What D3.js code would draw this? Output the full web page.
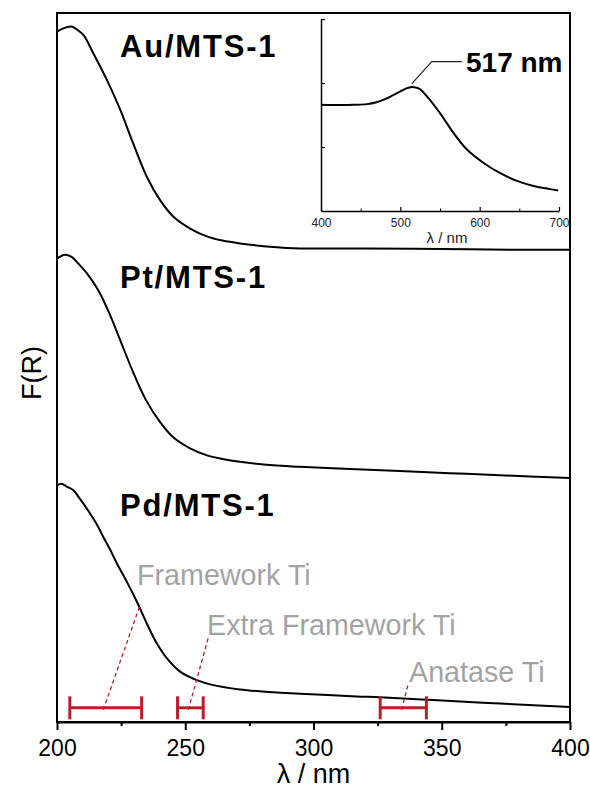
<!DOCTYPE html>
<html>
<head>
<meta charset="utf-8">
<script src="https://cdn.jsdelivr.net/npm/d3@7"></script>
<style>
  html, body { margin: 0; padding: 0; background: #fff; }
  svg { display: block; font-family: "Liberation Sans", Arial, Helvetica, sans-serif; }
</style>
</head>
<body>
<svg id="chart" width="590" height="789"></svg>
<script>
// ---- Data ----
const xMajorTicks = [200, 250, 300, 350, 400];
const xMinorTicks = [225, 275, 325, 375];

// Au/MTS-1 (offset trace, arbitrary F(R) units)
const auX = [200.1, 203, 205.7, 208, 210.3, 214.2, 219.4, 224.6, 229.7, 235, 240.2, 245.3, 251.9, 258.4, 264.5, 271.3, 284.3, 294.7, 320, 350, 380, 400];
const auY = [97.4, 97.9, 98.1, 97.6, 96.9, 94.3, 90.6, 86.4, 81.6, 76.9, 73.6, 71.3, 69.6, 68.5, 67.9, 67.5, 67.0, 66.8, 66.8, 66.7, 66.6, 66.6];

// Pt/MTS-1
const ptX = [200.1, 203.1, 205.7, 207.7, 211.6, 216.1, 220.7, 224.6, 229.6, 234.7, 240.2, 245.2, 251.9, 258.5, 264.5, 271.3, 284.2, 294.7, 314.2, 333.7, 353.2, 372.7, 400];
const ptY = [65.4, 65.9, 65.6, 64.9, 63.3, 60.9, 57.4, 53.9, 49.4, 45.4, 42.3, 40.2, 38.6, 37.6, 37.1, 36.7, 36.2, 36.0, 35.7, 35.4, 35.1, 34.8, 34.4];

// Pd/MTS-1
const pdX = [200.1, 201.8, 203.8, 206.4, 208.3, 210.3, 212.9, 215.5, 217.9, 220.6, 223.3, 227.2, 231.1, 235.0, 238.9, 242.8, 248.0, 254.5, 260.9, 271.3, 284.3, 294.7, 316.8, 325.9, 346.6, 372.7, 400];
const pdY = [33.4, 33.6, 33.2, 32.7, 31.8, 30.8, 29.4, 27.9, 26.2, 24.4, 22.4, 19.8, 17.0, 13.9, 11.1, 9.0, 7.1, 5.9, 5.2, 4.6, 4.2, 4.0, 3.6, 3.5, 3.1, 2.6, 2.1];

const sampleLabels = ["Au/MTS-1", "Pt/MTS-1", "Pd/MTS-1"];

// Ti species ranges (nm)
const rangeNames = ["Framework Ti", "Extra Framework Ti", "Anatase Ti"];
const rangeStart = [205, 247, 326];
const rangeEnd = [233, 257, 344];
const leaderFrom = [218, 251.2, 334.4];
const leaderTo = [232.4, 259, 337];

// Inset: Au/MTS-1, 400–700 nm
const insetXTicks = [400, 500, 600, 700];
const insetXMinor = [450, 550, 650];
const insetYTicks = [1, 2, 3];
const insetX = [400, 420, 440, 458, 470, 483, 500, 510, 517, 524, 533, 550, 567, 584, 605, 626, 647, 668, 685, 699];
const insetY = [1.66, 1.655, 1.66, 1.67, 1.70, 1.76, 1.87, 1.925, 1.935, 1.91, 1.80, 1.53, 1.22, 0.96, 0.75, 0.59, 0.47, 0.39, 0.35, 0.32];
const peakLabel = "517 nm";
const peakNm = 517;

// ---- Drawing ----
const svg = d3.select("#chart");
const mLeft = 57, mRight = 570, mTop = 13, mBottom = 722;
const x = d3.scaleLinear().domain([200, 400]).range([mLeft, mRight]);
const y = d3.scaleLinear().domain([0, 100]).range([mBottom, mTop]);

const curve = d3.curveCatmullRom.alpha(0.5);
const line = d3.line().x(d => x(d[0])).y(d => y(d[1])).curve(curve);
const series = [d3.zip(auX, auY), d3.zip(ptX, ptY), d3.zip(pdX, pdY)];
series.forEach(s => {
  svg.append("path").datum(s).attr("d", line)
    .attr("fill", "none").attr("stroke", "#000").attr("stroke-width", 2);
});

// sample labels
const labelPos = [[120, 57], [120, 288], [120, 516]];
sampleLabels.forEach((t, i) => {
  svg.append("text").attr("x", labelPos[i][0]).attr("y", labelPos[i][1])
    .attr("font-size", 31).attr("font-weight", "bold").attr("letter-spacing", 1.8)
    .attr("fill", "#000").text(t);
});

// Ti ranges
const red = "#b91f28";
const barY = 2.0;
rangeNames.forEach((name, i) => {
  const g = svg.append("g");
  g.append("line").attr("x1", x(rangeStart[i])).attr("x2", x(rangeEnd[i]))
    .attr("y1", y(barY)).attr("y2", y(barY)).attr("stroke", red).attr("stroke-width", 3);
  [rangeStart[i], rangeEnd[i]].forEach(v => {
    g.append("line").attr("x1", x(v)).attr("x2", x(v))
      .attr("y1", y(barY) - 11.5).attr("y2", y(barY) + 11.5)
      .attr("stroke", red).attr("stroke-width", 3);
  });
});
const leaderTopY = [16.5, 11.9, 5.5];
rangeNames.forEach((name, i) => {
  svg.append("line").attr("x1", x(leaderFrom[i])).attr("y1", y(barY) + 2)
    .attr("x2", x(leaderTo[i])).attr("y2", y(leaderTopY[i]))
    .attr("stroke", red).attr("stroke-width", 1.3).attr("stroke-dasharray", "4,3");
});
const rangeLabelPos = [[137, 585], [207, 635], [409, 682]];
rangeNames.forEach((name, i) => {
  svg.append("text").attr("x", rangeLabelPos[i][0]).attr("y", rangeLabelPos[i][1])
    .attr("font-size", 28.7).attr("fill", "#a3a3a3").text(name);
});

// frame
svg.append("rect").attr("x", mLeft).attr("y", mTop)
  .attr("width", mRight - mLeft).attr("height", mBottom - mTop)
  .attr("fill", "none").attr("stroke", "#000").attr("stroke-width", 2);

// x axis
const ax = svg.append("g").attr("transform", `translate(0,${mBottom})`)
  .call(d3.axisBottom(x).tickValues(xMajorTicks).tickSize(8).tickSizeOuter(0).tickPadding(10).tickFormat(d3.format("d")));
ax.select(".domain").attr("stroke-width", 2);
ax.selectAll(".tick line").attr("stroke-width", 2);
ax.selectAll("text").attr("font-size", 23).attr("fill", "#000")
  .attr("font-family", "'Liberation Sans', Arial, sans-serif");
const axm = svg.append("g").attr("transform", `translate(0,${mBottom})`)
  .call(d3.axisBottom(x).tickValues(xMinorTicks).tickSize(4).tickSizeOuter(0).tickFormat(""));
axm.select(".domain").remove();
axm.selectAll(".tick line").attr("stroke-width", 2);

svg.append("text").attr("x", (mLeft + mRight) / 2).attr("y", 783)
  .attr("text-anchor", "middle").attr("font-size", 27).attr("fill", "#000").text("λ / nm");
svg.append("text").attr("transform", `translate(41,373) rotate(-90)`)
  .attr("text-anchor", "middle").attr("font-size", 27).attr("fill", "#000").text("F(R)");

// ---- Inset ----
const xi = d3.scaleLinear().domain([400, 700]).range([321, 559]);
const yi = d3.scaleLinear().domain([0, 3]).range([211, 19]);
const gi = svg.append("g");
const ixa = gi.append("g").attr("transform", "translate(0,211)")
  .call(d3.axisBottom(xi).tickValues(insetXTicks).tickSize(-4).tickSizeOuter(0).tickPadding(7).tickFormat(d3.format("d")));
ixa.select(".domain").attr("stroke-width", 1.5);
ixa.selectAll(".tick line").attr("stroke-width", 1.2);
ixa.selectAll("text").attr("font-size", 12).attr("fill", "#222")
  .attr("font-family", "'Liberation Sans', Arial, sans-serif");
const ixm = gi.append("g").attr("transform", "translate(0,211)")
  .call(d3.axisBottom(xi).tickValues(insetXMinor).tickSize(-2.5).tickSizeOuter(0).tickFormat(""));
ixm.select(".domain").remove();
const iya = gi.append("g").attr("transform", "translate(321,0)")
  .call(d3.axisLeft(yi).tickValues(insetYTicks).tickSize(-4).tickSizeOuter(0).tickFormat(""));
iya.select(".domain").attr("stroke-width", 1.5);
iya.selectAll(".tick line").attr("stroke-width", 1.2);

const iline = d3.line().x(d => xi(d[0])).y(d => yi(d[1])).curve(curve);
gi.append("path").datum(d3.zip(insetX, insetY)).attr("d", iline)
  .attr("fill", "none").attr("stroke", "#000").attr("stroke-width", 2);

gi.append("text").attr("x", 447).attr("y", 243).attr("text-anchor", "middle")
  .attr("font-size", 15).attr("fill", "#222").text("λ / nm");

// peak leader
const px0 = xi(peakNm) - 2, py0 = yi(1.99);
gi.append("path")
  .attr("d", `M${px0},${py0} L${px0 + 20},${py0 - 22} L${px0 + 50},${py0 - 22}`)
  .attr("fill", "none").attr("stroke", "#222").attr("stroke-width", 1.2);
gi.append("text").attr("x", 466).attr("y", 72).attr("font-size", 28)
  .attr("font-weight", "bold").attr("fill", "#000").text(peakLabel);
</script>
</body>
</html>
